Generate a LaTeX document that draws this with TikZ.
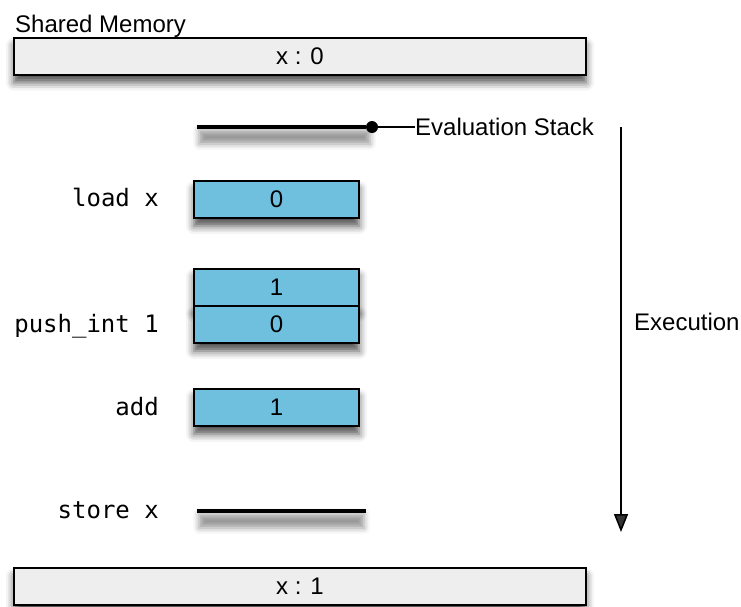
\documentclass[tikz,border=0pt]{standalone}
\usepackage{fontspec}
\setmainfont{Liberation Sans}
\setmonofont{DejaVu Sans Mono}
\usetikzlibrary{arrows.meta,shadows.blur}
\definecolor{stackblue}{RGB}{111,191,223}
\definecolor{memgray}{RGB}{238,238,238}

\begin{document}
\begin{tikzpicture}[x=1pt,y=-1pt,
	every node/.style={font=\fontsize{24}{28}\selectfont},
	boxshadow/.style={blur shadow={shadow xshift=0pt,shadow yshift=-8pt,shadow blur radius=8pt,shadow opacity=70}},
	lineshadow/.style={blur shadow={shadow xshift=0pt,shadow yshift=-10pt,shadow blur radius=6pt,shadow opacity=40}},
	membox/.style={draw,line width=2pt,fill=memgray,minimum width=572pt,minimum height=37pt,inner sep=0pt,boxshadow},
	cell/.style={draw,line width=2pt,fill=stackblue,minimum width=165pt,minimum height=37pt,inner sep=0pt,boxshadow},
	op/.style={anchor=base east,inner sep=0pt,font=\fontsize{24}{28}\selectfont\ttfamily},
	stackline/.style={line width=3.5pt},
	dot/.style={circle,fill,inner sep=0pt,minimum size=12pt}]
\useasboundingbox (0,0) rectangle (741,606);
\node [anchor=base west,inner sep=0pt] (memtitle) at (15,32) {Shared Memory};
\node [membox] (mem0) at (300,56) {x : 0};
\path [lineshadow] (199,120) rectangle (370,134);
\coordinate (evalstart) at (197,127);
\node [dot] (evaltop) at (372,127) {};
\draw [stackline] (evalstart) -- (evaltop);
\node [anchor=west,inner sep=0pt] (evallabel) at (415,127) {Evaluation Stack};
\draw [line width=1.2pt] (evaltop) -- (evallabel);
\node [op] (opload) at (159,206) {load x};
\node [cell] (load0) at (276.5,199.5) {0};
\node [op] (oppush) at (159,332) {push\_int 1};
\node [cell] (push1) at (276.5,287) {1};
\node [cell] (push0) at (276.5,324.5) {0};
\node [op] (opadd) at (159,415) {add};
\node [cell] (add1) at (276.5,407.5) {1};
\node [op] (opstore) at (159,518) {store x};
\path [lineshadow] (199,504) rectangle (364,518);
\coordinate (storestart) at (197,511);
\coordinate (storeend) at (366,511);
\draw [stackline] (storestart) -- (storeend);
\node [membox] (mem1) at (300,586.5) {x : 1};
\coordinate (exectop) at (621,127);
\coordinate (execend) at (621,532);
\draw [line width=1.5pt,-{Triangle[length=18pt,width=14pt]}] (exectop) -- (execend);
\node [anchor=west,inner sep=0pt] (execlabel) at (634,322) {Execution};
\end{tikzpicture}
\end{document}
